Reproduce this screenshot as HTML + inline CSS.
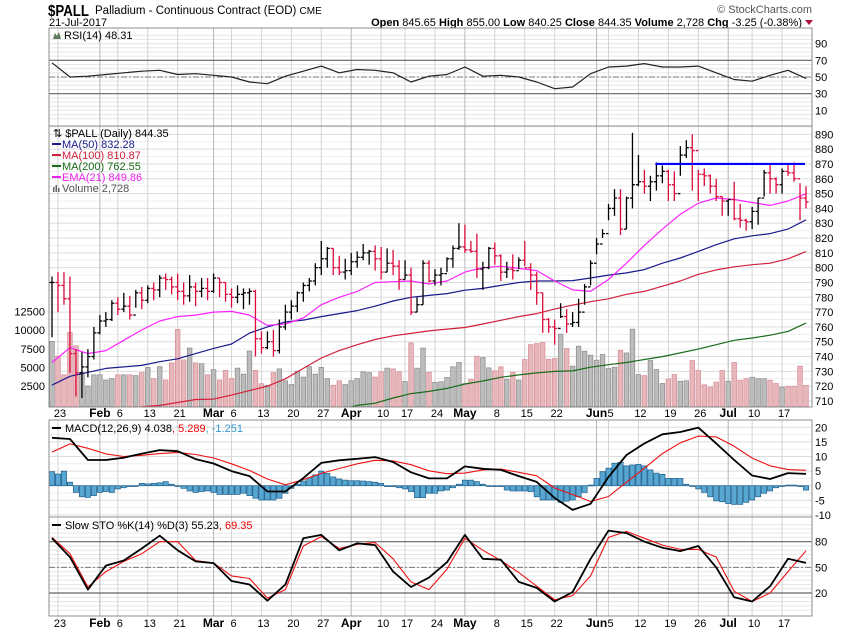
<!DOCTYPE html>
<html><head><meta charset="utf-8">
<style>
body{margin:0;background:#fff;width:850px;height:633px;overflow:hidden;font-family:"Liberation Sans",sans-serif}
svg text{font-family:"Liberation Sans",sans-serif}
</style></head>
<body>
<svg id="chart" width="850" height="633" xmlns="http://www.w3.org/2000/svg">
<text x="48" y="16" font-size="16" font-weight="bold" textLength="41" lengthAdjust="spacingAndGlyphs">$PALL</text>
<text x="95" y="14" font-size="11.5">Palladium - Continuous Contract (EOD) <tspan font-size="10">CME</tspan></text>
<text x="49" y="26" font-size="11">21-Jul-2017</text>
<text x="812" y="13" font-size="11" fill="#555" text-anchor="end">© StockCharts.com</text>
<text x="802" y="26" font-size="11" text-anchor="end"><tspan font-weight="bold">Open</tspan> 845.65  <tspan font-weight="bold">High</tspan> 855.00  <tspan font-weight="bold">Low</tspan> 840.25  <tspan font-weight="bold">Close</tspan> 844.35  <tspan font-weight="bold">Volume</tspan> 2,728  <tspan font-weight="bold">Chg</tspan> -3.25 (-0.38%)</text>
<polygon points="805,20 813,20 809,25" fill="#b0103a"/>
<g id="g"></g>
</svg>
<script>
const dayLabels=[[1,'23'],[11,'6'],[16,'13'],[21,'21'],[30,'6'],[35,'13'],[40,'20'],[45,'27'],[55,'10'],[59,'17'],[64,'24'],[74,'8'],[79,'15'],[84,'22'],[93,'5'],[98,'12'],[103,'19'],[108,'26'],[117,'10'],[122,'17']];
const monthLabels=[[8,'Feb'],[27,'Mar'],[50,'Apr'],[69,'May'],[91,'Jun'],[113,'Jul']];
const highs=[794,797,797,794,745,743,745,760,768,770,778,780,783,781,785,787,788,790,795,796,794,796,790,795,790,793,793,796,793,790,786,788,786,786,785,757,757,758,765,775,778,784,790,793,803,818,814,813,808,806,810,811,816,812,815,814,813,812,805,805,800,780,805,
805,799,800,807,815,830,829,818,823,804,814,817,809,804,809,807,818,803,797,783,766,765,776,772,770,779,789,805,820,826,843,853,853,848,891,876,866,862,871,869,866,865,882,886,890,866,867,863,860,848,846,858,843,833,841,847,866,870,861,867,870,871,857,855];
const lows=[753,770,775,729,713,712,726,738,755,760,764,768,770,765,773,772,776,778,780,785,782,778,775,777,774,780,778,783,780,777,773,776,772,775,740,742,745,740,742,758,765,770,777,784,788,795,800,795,795,792,795,800,805,802,798,792,797,795,785,792,768,770,775,
790,788,788,797,800,812,810,810,793,785,799,802,791,793,792,799,801,785,775,756,756,748,766,756,760,760,775,788,809,820,832,835,822,826,840,855,850,845,852,857,845,845,862,874,852,845,855,850,845,835,835,832,827,825,826,829,848,850,850,850,862,858,832,840];
const closes=[790,788,779,742,729,733,740,756,764,765,776,772,774,768,783,778,786,785,793,792,787,784,781,787,784,786,784,793,790,782,780,782,783,784,752,746,750,744,760,770,774,783,788,791,800,806,813,800,797,798,804,807,810,811,806,797,803,801,792,795,770,775,803,
791,795,796,806,813,814,812,811,799,800,813,808,797,799,798,805,800,795,783,765,760,759,767,762,763,770,787,803,816,823,840,847,826,847,856,858,855,858,862,865,856,850,876,881,879,863,862,855,848,845,846,833,832,831,838,847,864,860,856,865,864,860,847,844.35];
const volumes=[8500,6500,4000,9700,7900,4300,2500,4000,4000,3300,3500,4000,4000,4000,3900,4300,5000,3500,5100,3300,5600,10100,6000,7600,5600,5500,4000,4700,3300,4600,3500,4900,4100,7200,4600,2800,2600,4300,4800,3200,2700,4500,3700,5100,4100,5000,3500,2600,3200,2700,3200,3500,4400,4300,3700,4400,4900,4800,4400,3100,8300,4900,7600,
4340,2980,3070,3650,5080,5660,2840,3420,6510,6330,4940,4540,5080,3420,4340,3300,6060,8070,8200,8340,6100,6200,9470,7540,5170,7850,7180,6640,5970,6730,4850,5030,7300,6940,10140,4030,3900,5920,4720,2840,3450,4030,3140,3200,5920,4580,2660,2350,3020,4580,3140,5660,3270,3490,3670,3490,3490,3270,2840,2350,2440,2440,5170,2570];
const macdHist=[4.8,4,5,1.2,-2.3,-3.8,-4,-3.4,-2.3,-2,-2.3,-1.1,-0.7,-0.3,-0.1,0.8,0.6,0.8,1,1.4,0.5,0,-0.9,-1.8,-2.3,-2,-1.8,-2.3,-3,-3,-3,-3,-2.6,-3.4,-4.3,-4.9,-4.9,-4.9,-4.3,-2.6,-0.9,0.5,1.6,2.7,3.7,5,4.2,3,2.3,1.9,1.7,1.7,1.6,1.4,1.2,0.8,-0.3,-0.3,-0.7,-1.1,-2,-4.1,-4.1,-2.6,
-2.6,-1.8,-1.5,-0.7,0.5,1.9,1.9,1.4,0.5,0,0,-0.3,-1.5,-1.8,-1.8,-1.8,-2,-3.8,-4.9,-4.9,-4.9,-5.7,-5.3,-4.9,-3.8,-2.3,0.2,2.5,4.8,6,7.7,8,6.8,7.1,7.3,6.8,5.4,4.3,3.9,2.5,2.5,2.5,0.5,-0.1,-1.1,-2.3,-3.8,-5.2,-5.5,-6.1,-6.4,-6.4,-5.7,-4.9,-3.8,-2.6,-1.8,-0.7,-0.1,0.2,0.2,-0.3,-1.5];
// sampled every 3 bars (last value = last bar)
const rsi=[67,50,51,53,55,57,58,53,54,52,50,44,42,51,57,63,55,59,58,55,44,51,53,62,51,52,50,44,36,38,54,62,63,66,62,62,63,55,47,45,52,58,48.31];
const macdLine=[16.4,16,8.8,8.8,9.6,11,12.2,11.8,9.1,7.6,5,3.3,-2,-2,2.6,7.8,8.7,9.2,9.8,8.1,4.6,2.5,2.5,6.6,5.8,5.4,3.3,1.3,-4.2,-8.3,-6.2,3,10.5,14.5,17.6,18.4,19.9,14.5,8.8,3.5,2.3,4.3,4.038];
const signalLine=[11.5,14.3,12.8,10.9,10,10.4,11,11.4,10.7,9.5,7.5,5.2,2.3,0.3,2.1,4.2,5.9,7.5,8.7,8.5,7.2,5.1,4.1,4.3,5.4,5.7,4.6,3.4,-0.8,-3,-5.4,-3.7,1.2,6,11,14.7,17,16.7,13.5,9.5,6.8,5.5,5.289];
const stoK=[84,62,24,52,58,72,87,70,57,55,34,30,11,30,84,88,70,78,76,45,27,38,56,88,60,59,33,26,10,21,60,93,90,80,73,69,75,50,15,10,28,60,55.23];
const stoD=[85,66,27,45,57,66,80,80,58,55,40,37,14,24,75,86,72,77,79,60,33,24,48,84,70,58,44,28,12,17,40,85,92,84,76,71,71,62,22,10,20,45,69.35];
const ema21=[736,746,742,744,751,758,764,767,768,770,770.5,768,761,762,766,775,780,784,790,790.5,791,789,791,797,800,801,799.5,798,791,785,784,792,803,815,826,836,843.5,847,846,844,842,845,849.86];
const ma50=[720.7,726.7,729.4,732,733,734,736.5,738.5,742,745.5,748.5,755.8,760,763.4,764.6,767,769,771,774,777.5,780,781.3,782.5,784.8,786,788,790,791,791,791.3,793,795,796.5,798.7,803,806.5,811,815.5,819.5,821.5,823,826,832.28];
const ma100=[null,null,null,null,null,706,707,709,711,711.3,714,717,720,725,732,739,744,748,751.5,754,755.6,757.3,758.5,759.6,762,764.5,767,769,772,774.7,777,779,782,784,787.5,791,795.5,798.5,800.6,802,803,806,810.87];
const ma200=[null,null,null,null,null,null,null,null,null,null,null,null,null,null,null,null,704,707,708.5,712,715,716.5,718.5,721.5,723.5,726,727.6,729,730,730.3,732.8,734.5,736,738,740,742.5,745,748,751,752.5,754.4,757,762.55];
const resistanceLevel=870, resistanceFrom=101;
const priceTicks=[890,880,870,860,850,840,830,820,810,800,790,780,770,760,750,740,730,720,710];
const volTicks=[12500,10000,7500,5000,2500];
const rsiTicks=[90,70,50,30,10];
const macdTicks=[20,15,10,5,0,-5,-10];
const stoTicks=[80,50,20];

const NS='http://www.w3.org/2000/svg';
const G=document.getElementById('g');
function el(tag,attrs,parent){const e=document.createElementNS(NS,tag);for(const k in attrs)e.setAttribute(k,attrs[k]);(parent||G).appendChild(e);return e;}
const N=closes.length, L=49, R=812;
const xS=i=>52+i*(754/(N-1));
const sIdx=k=>Math.min(k*3,N-1);
const P={rsi:[28,126],price:[126,407],macd:[420,517],sto:[517,616]};
const yRsi=v=>77-(v-50)*0.835;
const yPrice=p=>401-(p-710)*1.4815;
const yVol=v=>404.6-v*0.00744;
const yMacd=v=>485.7-v*2.92;
const ySto=v=>593-(v-20)*0.855;

const defs=el('defs',{});
for(const k in P){const c=el('clipPath',{id:'c'+k},defs);el('rect',{x:L,y:P[k][0],width:R-L,height:P[k][1]-P[k][0]},c);}

function hline(y,p,color,dash,w,name){const l=el('line',{x1:L,x2:R,y1:y,y2:y,stroke:color,'stroke-width':w||1});if(dash)l.setAttribute('stroke-dasharray',dash);

}

for(let v=0;v<=100;v+=5){const y=yRsi(v);if(y>P.rsi[0]&&y<P.rsi[1])hline(y,'rsi','#e6e6e6',null,1,'rsi-gridline');}
for(let p=710;p<=895;p+=5){const y=yPrice(p);if(y>P.price[0]&&y<P.price[1])hline(y,'price',p%10?'#eeeeee':'#dddddd',null,1,'price-gridline');}
for(let v=-10;v<=20;v+=2.5){const y=yMacd(v);if(y>P.macd[0]&&y<P.macd[1])hline(y,'macd',v%5?'#eeeeee':'#dddddd',null,1,'macd-gridline');}
for(let v=0;v<=100;v+=5){const y=ySto(v);if(y>P.sto[0]&&y<P.sto[1])hline(y,'sto','#e6e6e6',null,1,'sto-gridline');}
dayLabels.forEach(d=>{for(const k in P){const v=el('line',{x1:xS(d[0]),x2:xS(d[0]),y1:P[k][0],y2:P[k][1],stroke:'#d4d4d4'});

}});
monthLabels.forEach(d=>{for(const k in P){const v=el('line',{x1:xS(d[0]),x2:xS(d[0]),y1:P[k][0],y2:P[k][1],stroke:'#b8b8b8'});

}});

hline(yRsi(70),'rsi','#666',null,1.2,'rsi-overbought-line');
hline(yRsi(30),'rsi','#666',null,1.2,'rsi-oversold-line');
hline(yRsi(50),'rsi','#777','6,2,2,2',1,'rsi-midline');
hline(ySto(80),'sto','#666',null,1.2,'sto-80-line');
hline(ySto(20),'sto','#666',null,1.2,'sto-20-line');
hline(ySto(50),'sto','#777','6,2,2,2',1,'sto-50-line');

function sampledPath(arr,yf,color,w,clip,name){let d='';arr.forEach((v,k)=>{if(v===null)return;d+=(d?'L':'M')+xS(sIdx(k)).toFixed(1)+','+yf(v).toFixed(1);});
const p=el('path',{d:d,fill:'none',stroke:color,'stroke-width':w,'clip-path':'url(#c'+clip+')','stroke-linejoin':'round'});

}

sampledPath(rsi,yRsi,'#222',1.2,'rsi','rsi-line');

const up=i=>i===0?true:closes[i]>=closes[i-1];
volumes.forEach((v,i)=>{const y=yVol(v);const r=el('rect',{x:xS(i)-2.3,y:y,width:4.6,height:406.5-y,fill:up(i)?'#bcbcbc':'#e6b8bc',stroke:up(i)?'#8a8a8a':'#d88a92','stroke-width':0.7,'clip-path':'url(#cprice)'});

});

sampledPath(ma200,yPrice,'#1a6b1a',1.2,'price','ma200-line');
sampledPath(ma100,yPrice,'#d0203a',1.2,'price','ma100-line');
sampledPath(ma50,yPrice,'#1a1a8c',1.2,'price','ma50-line');
sampledPath(ema21,yPrice,'#ff22ff',1.2,'price','ema21-line');

closes.forEach((c,i)=>{const x=xS(i);const o=i?closes[i-1]:c;const col=up(i)?'#000':'#dc0a3c';
const g=el('g',{stroke:col,'stroke-width':1.3,'clip-path':'url(#cprice)'});


el('line',{x1:x,x2:x,y1:yPrice(highs[i]),y2:yPrice(lows[i])},g);
el('line',{x1:x-2.5,x2:x,y1:yPrice(o),y2:yPrice(o)},g);
el('line',{x1:x,x2:x+2.5,y1:yPrice(c),y2:yPrice(c)},g);});

const rl=el('line',{x1:xS(resistanceFrom)-1,x2:xS(N-1)-1,y1:yPrice(resistanceLevel),y2:yPrice(resistanceLevel),stroke:'#0000ff','stroke-width':2.2});



macdHist.forEach((v,i)=>{const y0=yMacd(0),y1=yMacd(v);const r=el('rect',{x:xS(i)-2.6,y:Math.min(y0,y1),width:5.2,height:Math.max(0.8,Math.abs(y1-y0)),fill:'#57a7d2',stroke:'#1f5f8b','stroke-width':0.7});

});
sampledPath(signalLine,yMacd,'#ee1111',1.1,'macd','macd-signal-line');
sampledPath(macdLine,yMacd,'#000',1.8,'macd','macd-line');

sampledPath(stoD,ySto,'#ee1111',1.1,'sto','sto-d-line');
sampledPath(stoK,ySto,'#000',1.8,'sto','sto-k-line');

for(const k in P){const r=el('rect',{x:L,y:P[k][0],width:R-L,height:P[k][1]-P[k][0],fill:'none',stroke:'#8c8c8c'});

}

function txt(x,y,s,attrs,name){const t=el('text',Object.assign({x:x,y:y,'font-size':11},attrs||{}));t.textContent=s;

return t;}
rsiTicks.forEach(v=>txt(815,yRsi(v)+4,String(v),{},'rsi-tick-label'));
priceTicks.forEach(v=>txt(815,yPrice(v)+4,String(v),{},'price-tick-label'));
volTicks.forEach(v=>txt(45,yVol(v)+4,String(v),{'text-anchor':'end'},'volume-tick-label'));
macdTicks.forEach(v=>txt(815,yMacd(v)+4,String(v),{},'macd-tick-label'));
stoTicks.forEach(v=>txt(815,ySto(v)+4,String(v),{},'sto-tick-label'));
[417,627].forEach(yy=>{
dayLabels.forEach(d=>txt(xS(d[0])+2,yy,d[1],{'text-anchor':'middle'},'x-axis-day-label'));
monthLabels.forEach(d=>txt(xS(d[0]),yy,d[1],{'text-anchor':'middle','font-weight':'bold','font-size':12},'x-axis-month-label'));
});

txt(64,39,'RSI(14) 48.31',{},'rsi-legend');
el('path',{d:'M53,39 L55,33 L57,36 L59,32 L61,39 Z',fill:'#5a7a5a'});
txt(53,137,'⇅ $PALL (Daily) 844.35',{},'price-legend');
[['MA(50) 832.28','#1a1a8c',148],['MA(100) 810.87','#d0203a',159],['MA(200) 762.55','#1a6b1a',170],['EMA(21) 849.86','#ee22ee',181]].forEach(m=>{
const l=el('line',{x1:52,x2:61,y1:m[2]-4,y2:m[2]-4,stroke:m[1],'stroke-width':2});


txt(62,m[2],m[0],{fill:m[1]},'legend-entry');});
txt(62,192,'Volume 2,728',{fill:'#555'},'volume-legend');
el('path',{d:'M53,192 v-5 h1.5 v5 h1 v-7 h1.5 v7 h1 v-4 h1.5 v4z',fill:'#666'});
const ml=txt(65,432,'',{},'macd-legend');ml.innerHTML='MACD(12,26,9) 4.038<tspan fill="#e00">, 5.289</tspan><tspan fill="#3399cc">, -1.251</tspan>';
el('line',{x1:52,x2:61,y1:428,y2:428,stroke:'#000','stroke-width':2});
const sl=txt(65,529,'',{},'sto-legend');sl.innerHTML='Slow STO %K(14) %D(3) 55.23<tspan fill="#e00">, 69.35</tspan>';
el('line',{x1:52,x2:61,y1:525,y2:525,stroke:'#000','stroke-width':2});
</script>
</body></html>
